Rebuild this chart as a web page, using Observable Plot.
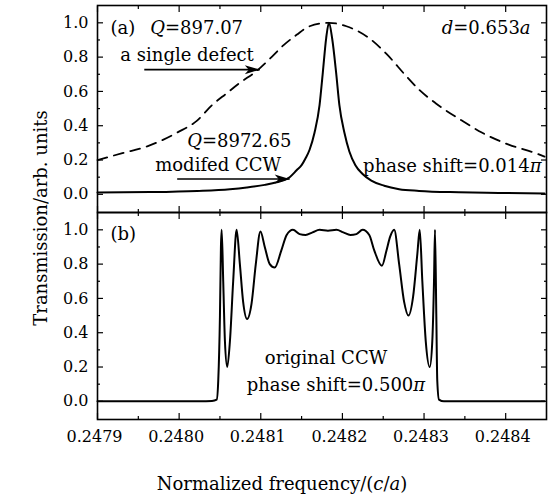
<!DOCTYPE html>
<html><head><meta charset="utf-8">
<script src="https://cdn.jsdelivr.net/npm/d3@7"></script>
<script src="https://cdn.jsdelivr.net/npm/@observablehq/plot@0.6"></script>
<style>
html,body{margin:0;padding:0;background:#fff;}
#chart{width:551px;height:494px;position:relative;}
#chart svg, #chart svg text, #chart svg tspan {font-family: "DejaVu Serif", "Liberation Serif", serif !important;}
</style></head><body><div id="chart"></div>
<script>
// ---- Panel (a): modified CCW (solid), single defect (dashed)
const freqSolidA = [0.2479000,0.2479646,0.2480220,0.2480622,0.2480829,0.2481049,0.2481195,0.2481354,0.2481439,0.2481500,0.2481549,0.2481598,0.2481659,0.2481720,0.2481760,0.2481801,0.2481835,0.2481874,0.2481923,0.2481963,0.2482024,0.2482085,0.2482159,0.2482244,0.2482354,0.2482512,0.2482695,0.2482939,0.2483427,0.2483915,0.2484476];
const transSolidA = [0.010,0.013,0.020,0.030,0.040,0.055,0.070,0.100,0.140,0.170,0.210,0.260,0.360,0.520,0.710,0.910,1.000,0.910,0.710,0.520,0.360,0.250,0.170,0.120,0.080,0.050,0.030,0.020,0.012,0.008,0.005];
const freqDashedA = [0.2479000,0.2479305,0.2479610,0.2479976,0.2480220,0.2480402,0.2480585,0.2480744,0.2480951,0.2481110,0.2481280,0.2481439,0.2481598,0.2481835,0.2482049,0.2482329,0.2482537,0.2482780,0.2482939,0.2483146,0.2483463,0.2483707,0.2484037,0.2484366,0.2484476];
const transDashedA = [0.20,0.24,0.28,0.36,0.43,0.52,0.59,0.65,0.72,0.79,0.87,0.93,0.98,1.00,0.98,0.91,0.82,0.69,0.61,0.53,0.43,0.36,0.29,0.24,0.22];
// ---- Panel (b): original CCW
const freqB = [0.2479000,0.2479646,0.2480256,0.2480402,0.2480460,0.2480479,0.2480500,0.2480512,0.2480521,0.2480540,0.2480561,0.2480589,0.2480622,0.2480662,0.2480704,0.2480744,0.2480784,0.2480833,0.2480887,0.2480939,0.2480996,0.2481049,0.2481110,0.2481171,0.2481252,0.2481317,0.2481394,0.2481476,0.2481549,0.2481634,0.2481720,0.2481823,0.2481927,0.2482012,0.2482098,0.2482171,0.2482248,0.2482329,0.2482390,0.2482484,0.2482540,0.2482585,0.2482634,0.2482695,0.2482756,0.2482809,0.2482866,0.2482918,0.2482947,0.2482979,0.2483021,0.2483070,0.2483101,0.2483122,0.2483134,0.2483150,0.2483162,0.2483183,0.2483244,0.2484476];
const transB = [0.000,0.000,0.000,0.002,0.010,0.120,0.500,0.900,1.000,0.700,0.350,0.200,0.350,0.700,1.000,0.800,0.580,0.480,0.570,0.800,0.990,0.900,0.800,0.780,0.880,0.970,1.000,0.975,0.970,0.985,1.000,0.995,1.000,0.985,0.970,0.975,1.000,0.970,0.880,0.790,0.880,0.960,1.000,0.800,0.580,0.500,0.610,0.860,1.000,0.700,0.350,0.200,0.350,0.700,1.000,0.510,0.120,0.010,0.000,0.000];
// ---- Axes
const xTicksMajor = [0.2479,0.2480,0.2481,0.2482,0.2483,0.2484];
const xTicksMinor = [0.24795,0.24805,0.24815,0.24825,0.24835];
const yTicksMajor = [0.0,0.2,0.4,0.6,0.8,1.0];
const yTicksMinor = [0.1,0.3,0.5,0.7,0.9];
const xDomain = [0.2479, 0.24845];
const yDomain = [-0.106, 1.101];
const panels = ["a","b"];
const xTitle = "Normalized frequency/(_c_/_a_)";
const yTitle = "Transmission/arb. units";
// ---- Annotations
const annText = ["(a)","_Q_=897.07","a single defect","_Q_=8972.65","modifed CCW","_d_=0.653_a_","phase shift=0.014_π_","(b)","original CCW","phase shift=0.500_π_"];
const annPanel = ["a","a","a","a","a","a","a","b","b","b"];
const annX = [0.2479159,0.2479646,0.2479280,0.2480098,0.2479707,0.2484305,0.2484439,0.2479159,0.2481799,0.2481921];
const annY = [0.967,0.967,0.809,0.312,0.171,0.967,0.166,0.974,0.251,0.093];
const annAnchor = ["start","start","start","start","start","end","end","start","middle","middle"];
const arrowPanel = ["a","a"];
const arrowX1 = [0.2479573,0.2479976];
const arrowX2 = [0.2480988,0.2481354];
const arrowY = [0.727,0.089];

const rowsSolidA = freqSolidA.map((x,i)=>({x, y: transSolidA[i], panel: "a"}));
const rowsDashedA = freqDashedA.map((x,i)=>({x, y: transDashedA[i], panel: "a"}));
const rowsB = freqB.map((x,i)=>({x, y: transB[i], panel: "b"}));
const rowsAnn = annText.map((t,i)=>({t, x: annX[i], y: annY[i], panel: annPanel[i], anchor: annAnchor[i]}));
const rowsArrow = arrowX1.map((x1,i)=>({x1, x2: arrowX2[i], y: arrowY[i], panel: arrowPanel[i]}));

const arrowHead = {draw(ctx){ ctx.moveTo(0,0); ctx.lineTo(-15,-4.5); ctx.lineTo(-11,0); ctx.lineTo(-15,4.5); ctx.closePath(); }};
const tk = {tickFormat: () => "", facetAnchor: null, label: null, strokeWidth: 1.2};
const annMarks = ["start","middle","end"].map(a =>
  Plot.text(rowsAnn.filter(d => d.anchor === a), {x: "x", y: "y", fy: "panel", text: "t", textAnchor: a, fill: "black", fontSize: 18}));

const chart = Plot.plot({
  width: 551, height: 494,
  marginTop: 5, marginBottom: 75, marginLeft: 97, marginRight: 5,
  style: {fontFamily: "DejaVu Serif", fontSize: "16px", color: "black", background: "white"},
  x: {domain: xDomain, axis: null, label: null},
  y: {domain: yDomain, axis: null, label: null},
  fy: {domain: panels, padding: 0, axis: null, label: null},
  marks: [
    Plot.line(rowsDashedA, {x: "x", y: "y", fy: "panel", stroke: "black", strokeWidth: 1.8, strokeDasharray: "10,7", curve: "monotone-x"}),
    Plot.line(rowsSolidA, {x: "x", y: "y", fy: "panel", stroke: "black", strokeWidth: 2, curve: "monotone-x"}),
    Plot.line(rowsB, {x: "x", y: "y", fy: "panel", stroke: "black", strokeWidth: 2, curve: "monotone-x"}),
    Plot.axisX({ticks: xTicksMajor, anchor: "bottom", tickSize: -6, ...tk}),
    Plot.axisX({ticks: xTicksMinor, anchor: "bottom", tickSize: -3, ...tk}),
    Plot.axisX({ticks: xTicksMajor, anchor: "top", tickSize: -6, ...tk}),
    Plot.axisX({ticks: xTicksMinor, anchor: "top", tickSize: -3, ...tk}),
    Plot.axisY({ticks: yTicksMajor, anchor: "left", tickSize: -6, ...tk}),
    Plot.axisY({ticks: yTicksMinor, anchor: "left", tickSize: -3, ...tk}),
    Plot.axisY({ticks: yTicksMajor, anchor: "right", tickSize: -6, ...tk}),
    Plot.axisY({ticks: yTicksMinor, anchor: "right", tickSize: -3, ...tk}),
    Plot.axisX({ticks: xTicksMajor, anchor: "bottom", tickSize: 0, tickPadding: 11, dx: -3, tickFormat: d3.format(".4f"), facetAnchor: "bottom", label: null, fontSize: 16}),
    Plot.axisY({ticks: yTicksMajor, anchor: "left", tickSize: 0, tickPadding: 9, tickFormat: d3.format(".1f"), facetAnchor: null, label: null, fontSize: 16}),
    Plot.frame({stroke: "black", strokeWidth: 1.6}),
    Plot.link(rowsArrow, {x1: "x1", x2: "x2", y1: "y", y2: "y", fy: "panel", stroke: "black", strokeWidth: 1.6}),
    Plot.dot(rowsArrow, {x: "x2", y: "y", fy: "panel", symbol: arrowHead, fill: "black", stroke: "none"}),
    ...annMarks
  ]
});

document.getElementById("chart").appendChild(chart);
const svg = d3.select(chart);
svg.append("text").attr("x", 282).attr("y", 490).attr("text-anchor", "middle").attr("font-size", 18).attr("fill", "black").text(xTitle);
svg.append("text").attr("transform", "translate(47,218) rotate(-90)").attr("text-anchor", "middle").attr("font-size", 18).attr("fill", "black").text(yTitle);

// rich text: segments wrapped in _..._ become italic
svg.selectAll("text").each(function() {
  const s = this.textContent;
  if (!s || s.indexOf("_") < 0) return;
  const parts = s.split("_");
  this.textContent = "";
  parts.forEach((p, i) => {
    if (!p) return;
    const ts = document.createElementNS("http://www.w3.org/2000/svg", "tspan");
    if (i % 2 === 1) ts.setAttribute("font-style", "italic");
    ts.textContent = p;
    this.appendChild(ts);
  });
});
</script></body></html>
